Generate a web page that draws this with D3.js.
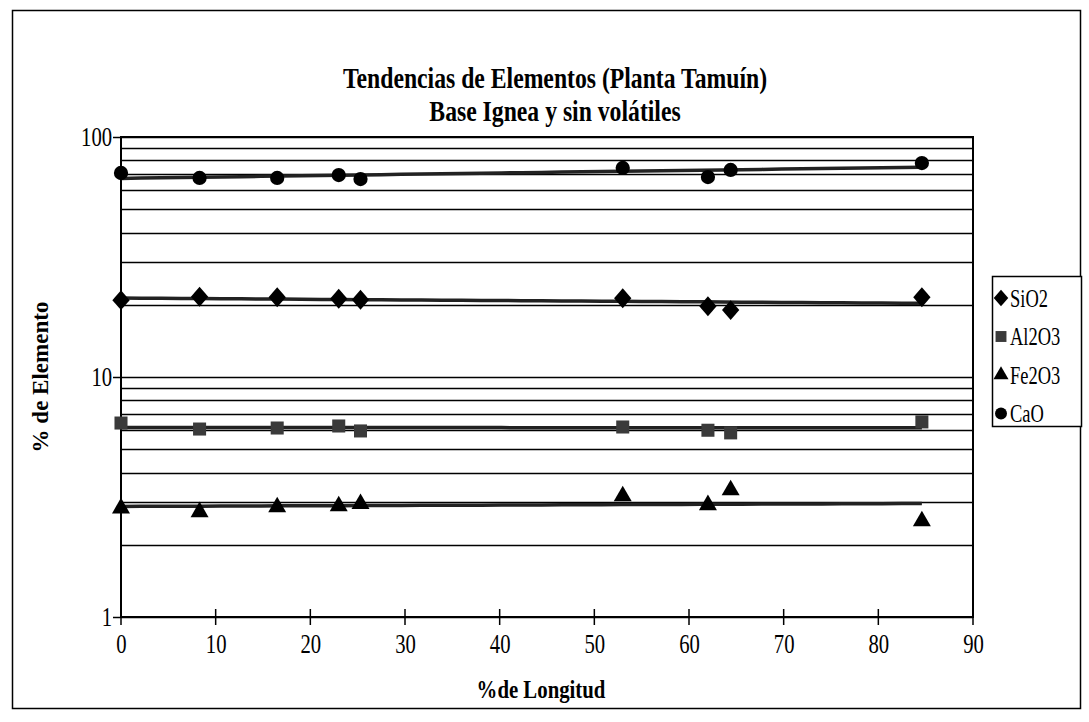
<!DOCTYPE html>
<html lang="en">
<head>
<meta charset="UTF-8">
<title>Tendencias de Elementos</title>
<style>
  body { margin: 0; background: #fff; }
  text { font-family: "Liberation Serif", "Times New Roman", serif; fill: #000; }
</style>
</head>
<body>
<script src="https://cdn.jsdelivr.net/npm/d3@7/dist/d3.min.js"></script>
<script>
// data
var longitud = [0, 8.3, 16.5, 23, 25.3, 53, 62, 64.4, 84.6]
var sio2  = [20.9, 21.6, 21.5, 21.2, 21.0, 21.3, 19.7, 19.0, 21.5]
var al2o3 = [6.43, 6.07, 6.13, 6.25, 5.96, 6.19, 6.0, 5.85, 6.5]
var fe2o3 = [2.84, 2.74, 2.87, 2.9, 2.96, 3.19, 2.93, 3.38, 2.51]
var cao   = [70.8, 67.5, 67.5, 69.4, 66.8, 74.3, 68.1, 72.9, 77.9]
var seriesNames = ['SiO2', 'Al2O3', 'Fe2O3', 'CaO']
var xTicks = [0, 10, 20, 30, 40, 50, 60, 70, 80, 90]
var yLabels = [1, 10, 100]

var width = 1089, height = 722
var series = [
  {name: seriesNames[0], values: sio2,  sym: d3.symbolSquare,   size: 150, rot: 45, sy: 1.15, fill: '#000'},
  {name: seriesNames[1], values: al2o3, sym: d3.symbolSquare,   size: 170, rot: 0,  sy: 1,    fill: '#3a3a3a'},
  {name: seriesNames[2], values: fe2o3, sym: d3.symbolTriangle, size: 140, rot: 0,  sy: 1,    fill: '#000'},
  {name: seriesNames[3], values: cao,   sym: d3.symbolCircle,   size: 160, rot: 0,  sy: 1,    fill: '#000'}
]

var x = d3.scaleLinear().domain([0, 90]).range([121, 973])
var y = d3.scaleLog().domain([1, 100]).range([617, 137])

var svg = d3.select('body').append('svg').attr('width', width).attr('height', height)

// narrow text, like the scanned Times lettering
function squeezed(px, py, str, size, bold, sx) {
  return svg.append('text')
    .attr('transform', `translate(${px},${py}) scale(${sx},1)`)
    .attr('text-anchor', 'middle')
    .style('font-size', size + 'px').style('font-weight', bold ? 'bold' : 'normal')
    .text(str)
}

// outer frame
svg.append('rect').attr('x', 12.5).attr('y', 10.5).attr('width', 1068).attr('height', 698)
  .attr('fill', 'none').attr('stroke', '#000').attr('stroke-width', 1.5)

// title
squeezed(555, 88, 'Tendencias de Elementos (Planta Tamuín)', 30, true, 0.79)
squeezed(555, 121, 'Base Ignea y sin volátiles', 30, true, 0.79)

// horizontal gridlines (major + minor on log axis)
svg.append('g').selectAll('line').data(y.ticks()).enter().append('line')
  .attr('x1', x(0)).attr('x2', x(90))
  .attr('y1', d => Math.round(y(d)) + 0.5).attr('y2', d => Math.round(y(d)) + 0.5)
  .attr('stroke', '#000').attr('stroke-width', 1.3)

// plot frame
svg.append('rect').attr('x', x(0)).attr('y', y(100)).attr('width', x(90) - x(0)).attr('height', y(1) - y(100))
  .attr('fill', 'none').attr('stroke', '#000').attr('stroke-width', 2)

// x axis
var xAxis = svg.append('g').attr('transform', `translate(0,${y(1)})`)
  .call(d3.axisBottom(x).tickValues(xTicks).tickSize(0).tickPadding(16).tickFormat(d3.format('d')))
xAxis.select('.domain').remove()
xAxis.selectAll('text').style('font-size', '28px').attr('font-family', null)
  .attr('transform', 'scale(0.74,1)')
xAxis.selectAll('.tk').data(xTicks).enter().append('line')
  .attr('x1', d => x(d)).attr('x2', d => x(d)).attr('y1', -8).attr('y2', 8)
  .attr('stroke', '#000').attr('stroke-width', 1.5)

// y axis
var yAxis = svg.append('g').attr('transform', `translate(${x(0)},0)`)
  .call(d3.axisLeft(y).tickValues(yLabels).tickSize(8).tickPadding(1).tickFormat(d3.format('d')))
yAxis.select('.domain').remove()
yAxis.selectAll('line').attr('stroke', '#000').attr('stroke-width', 1.5)
yAxis.selectAll('text').style('font-size', '28px').attr('font-family', null)
  .attr('transform', 'scale(0.74,1)').attr('x', -12)

// axis titles
squeezed(541, 698, '%de Longitud', 26, true, 0.8)
svg.append('text').attr('transform', `translate(48,${(y(1) + y(100)) / 2}) rotate(-90)`)
  .attr('text-anchor', 'middle')
  .style('font-size', '23px').style('font-weight', 'bold')
  .text('% de Elemento')

// linear trendlines (least squares on the data)
function trend(vals) {
  var mx = d3.mean(longitud), my = d3.mean(vals)
  var sxy = d3.sum(longitud, (d, i) => (d - mx) * (vals[i] - my))
  var sxx = d3.sum(longitud, d => (d - mx) * (d - mx))
  var b = sxy / sxx, a = my - b * mx
  var x0 = d3.min(longitud), x1 = d3.max(longitud)
  return d3.range(0, 41).map(k => {
    var xv = x0 + (x1 - x0) * k / 40
    return [xv, a + b * xv]
  })
}
var line = d3.line().x(d => x(d[0])).y(d => y(d[1]))
svg.append('g').selectAll('path').data(series).enter().append('path')
  .attr('d', s => line(trend(s.values)))
  .attr('fill', 'none').attr('stroke', '#222').attr('stroke-width', 3.5)

// markers
series.forEach(function(s) {
  svg.append('g').selectAll('path').data(s.values).enter().append('path')
    .attr('transform', (d, i) => `translate(${x(longitud[i])},${y(d)}) scale(1,${s.sy}) rotate(${s.rot})`)
    .attr('d', d3.symbol().type(s.sym).size(s.size))
    .attr('fill', s.fill)
})

// legend
var lg = svg.append('g')
lg.append('rect').attr('x', 992.5).attr('y', 276.5).attr('width', 89).attr('height', 150)
  .attr('fill', '#fff').attr('stroke', '#000').attr('stroke-width', 1.5)
var item = lg.selectAll('.item').data(series).enter().append('g')
  .attr('transform', (d, i) => `translate(1001,${298 + i * 38.5})`)
item.append('path').attr('d', s => d3.symbol().type(s.sym).size(s.size * 0.7)())
  .attr('transform', s => `scale(1,${s.sy}) rotate(${s.rot})`).attr('fill', s => s.fill)
item.append('text').attr('transform', 'translate(9,0) scale(0.74,1)').attr('dy', '0.35em')
  .style('font-size', '25px')
  .text(s => s.name)
</script>
</body>
</html>
